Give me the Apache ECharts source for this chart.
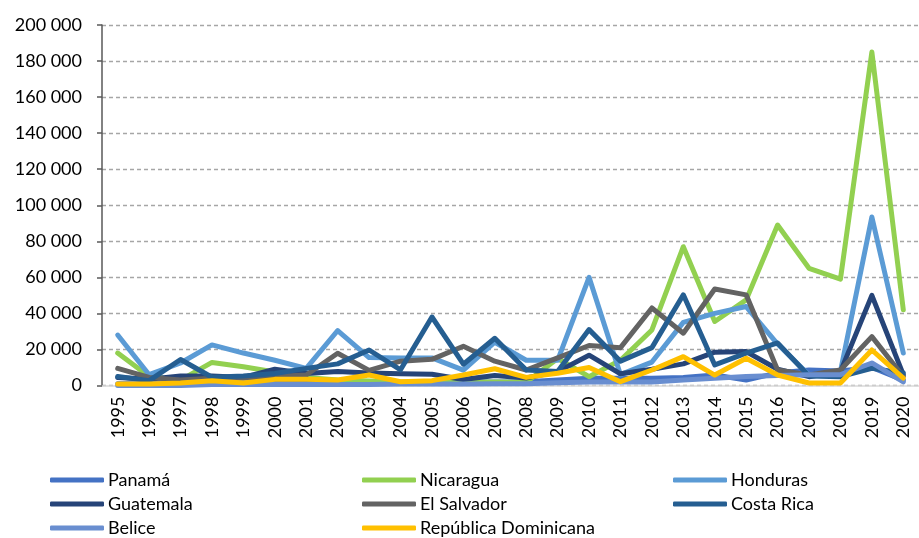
<!DOCTYPE html>
<html><head><meta charset="utf-8">
<script src="https://cdn.jsdelivr.net/npm/echarts@6/dist/echarts.min.js"></script>
<style>html,body{margin:0;padding:0;background:#fff}#c{width:919px;height:538px}</style>
</head><body><div id="c"></div>
<script>
const years = ['1995','1996','1997','1998','1999','2000','2001','2002','2003','2004','2005','2006','2007','2008','2009','2010','2011','2012','2013','2014','2015','2016','2017','2018','2019','2020'];
const panama = [1000,1000,1000,1200,1000,1500,1500,1500,1500,1500,1500,1800,2000,2100,3000,4000,4000,4000,4500,5800,3000,7000,8600,8000,10000,3000];
const nicaragua = [18000,5000,3000,12800,10400,7500,4500,3000,2500,2000,2000,2000,2000,1800,15000,4900,14000,30800,77000,35500,47500,89000,65000,59000,185000,42000];
const honduras = [28000,6000,12500,22500,18000,14000,9500,30500,15500,15300,15300,8500,24000,14000,14000,60000,6000,13000,35000,40000,43800,23000,5800,7700,93500,18000];
const guatemala = [4500,3500,5300,5300,4500,9000,6700,7700,7000,6500,6200,3300,5500,4200,7700,16800,6500,9000,12000,18500,18800,9000,4900,7700,50000,6000];
const elSalvador = [9500,4500,3000,4000,4000,5000,5800,17900,8400,13500,14500,21800,13500,8600,15300,22200,21000,43000,29000,53500,50300,8600,5800,8600,27100,5000];
const costaRica = [5000,2700,14400,4600,5300,6700,9500,12000,19700,8700,38000,11800,26200,8600,7700,31000,13500,21000,50300,11400,18000,23600,5300,4900,9500,7000];
const belice = [0,0,0,500,500,500,500,500,500,800,800,800,1000,1000,1500,2000,2000,2000,3000,4000,5000,5500,6000,6000,12500,2000];
const repDom = [800,800,1400,2700,1400,3400,3400,3000,5800,2100,2700,5800,9300,4500,6800,10000,2100,8600,16000,5800,15100,5800,1400,1400,19700,4100];
const yTicks = [0,20000,40000,60000,80000,100000,120000,140000,160000,180000,200000];

const seriesDefs = [
  ['Panamá', panama, '#4472C4'],
  ['Nicaragua', nicaragua, '#92D050'],
  ['Honduras', honduras, '#5B9BD5'],
  ['Guatemala', guatemala, '#264478'],
  ['El Salvador', elSalvador, '#636363'],
  ['Costa Rica', costaRica, '#255E91'],
  ['Belice', belice, '#698ED0'],
  ['República Dominicana', repDom, '#FFC000']
];
const font = 'Lato, "Open Sans", sans-serif';
function legendCol(names, left) {
  return {
    orient: 'vertical', left: left, top: 466, height: 100, data: names,
    icon: 'roundRect', itemWidth: 54, itemHeight: 5, itemGap: 6,
    textStyle: {fontFamily: font, fontSize: 18, color: '#000', lineHeight: 18, padding: [0,0,0,-1]}
  };
}
const chart = echarts.init(document.getElementById('c'), null, {renderer: 'canvas'});
chart.setOption({
  animation: false,
  backgroundColor: '#fff',
  grid: {left: 102, right: -8.5, top: 25, bottom: 152.5, containLabel: false},
  xAxis: {
    type: 'category', data: years, boundaryGap: true,
    axisLine: {lineStyle: {color: '#D9D9D9', width: 1.5}},
    axisTick: {show: false},
    axisLabel: {rotate: 90, margin: 11, fontFamily: font, fontSize: 18, color: '#000', interval: 0}
  },
  yAxis: {
    type: 'value', min: yTicks[0], max: yTicks[yTicks.length-1], interval: yTicks[1]-yTicks[0],
    axisLine: {show: true, lineStyle: {color: '#595959', width: 1.5}},
    axisTick: {show: true, length: 5, lineStyle: {color: '#595959', width: 1.5}},
    axisLabel: {margin: 20, fontFamily: font, fontSize: 18, color: '#000',
      formatter: v => String(v).replace(/\B(?=(\d{3})+(?!\d))/g, ' ')},
    splitLine: {lineStyle: {color: '#A6A6A6', width: 1.3, type: [4, 3]}}
  },
  legend: [
    legendCol(['Panamá','Guatemala','Belice'], 45),
    legendCol(['Nicaragua','El Salvador','República Dominicana'], 357),
    legendCol(['Honduras','Costa Rica'], 668)
  ],
  series: seriesDefs.map(([name, data, color]) => ({
    name: name, type: 'line', data: data, showSymbol: false, symbol: 'none',
    color: color,
    lineStyle: {color: color, width: 5, cap: 'round', join: 'round'},
    itemStyle: {color: color}
  }))
});
</script></body></html>
